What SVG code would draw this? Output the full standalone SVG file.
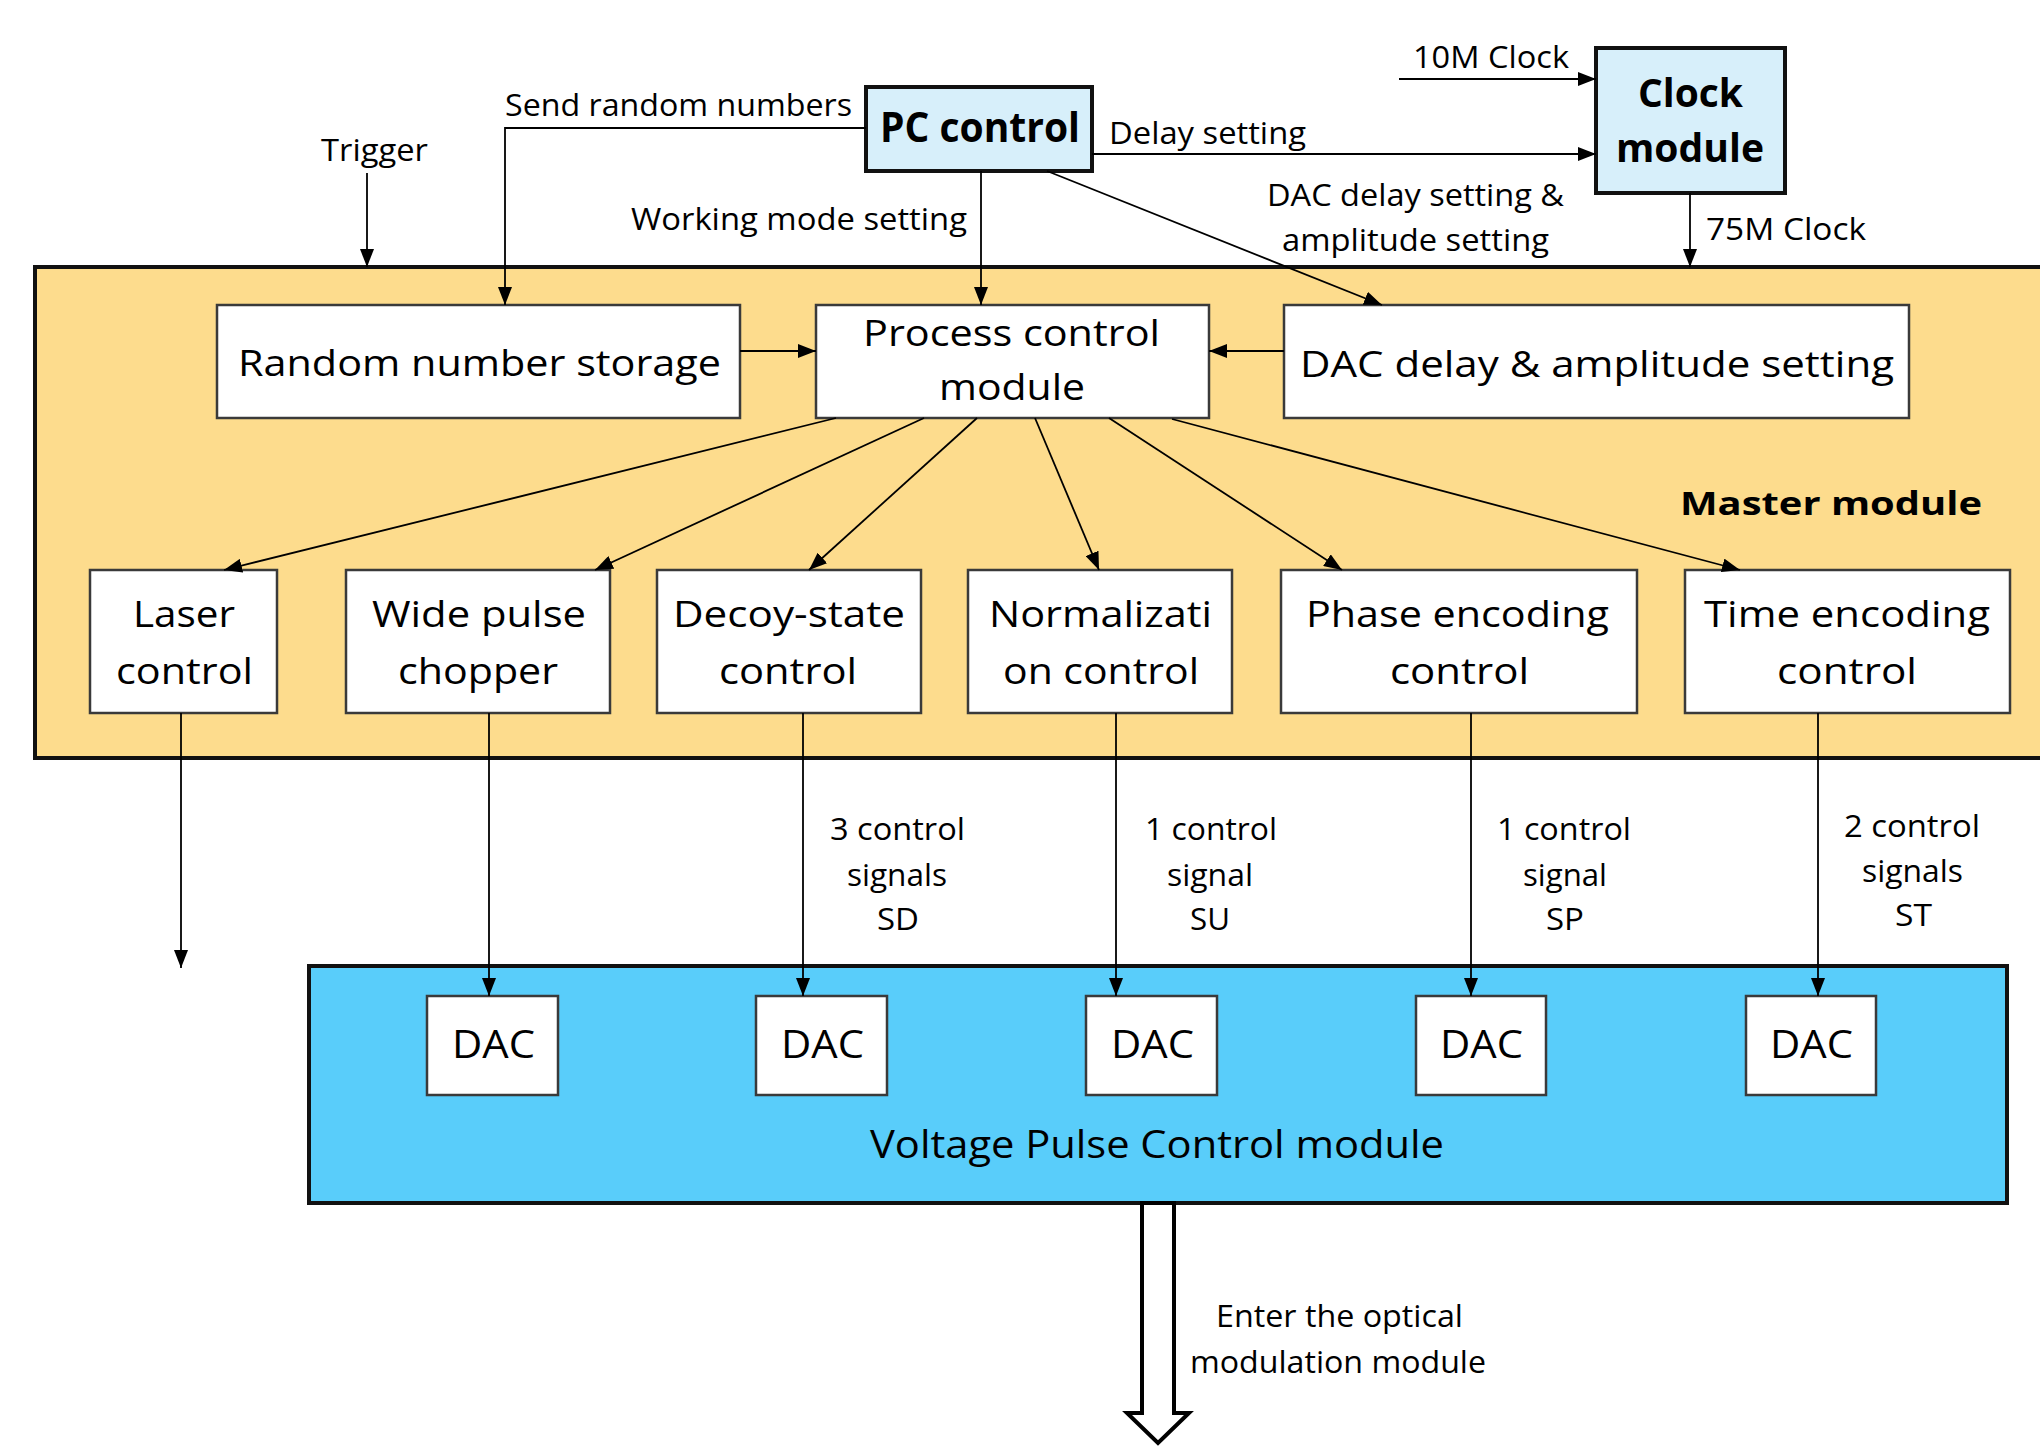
<svg xmlns="http://www.w3.org/2000/svg" width="2040" height="1448" viewBox="0 0 2040 1448">
<defs>
<marker id="ah" markerUnits="userSpaceOnUse" markerWidth="19" markerHeight="14" refX="18" refY="7" orient="auto">
<path d="M0,0 L18,7 L0,14 z" fill="#000"/>
</marker>
<style>
text{font-family:"Open Sans","Liberation Sans",sans-serif;fill:#000;}
.lbl{font-size:31px;}
.big{font-size:37px;}
.b{font-weight:bold;}
.inner{fill:#fff;stroke:#3a3a3a;stroke-width:2.5;}
.pc{fill:#d7effa;stroke:#111;stroke-width:4;}
.con{fill:none;stroke:#000;stroke-width:1.8;marker-end:url(#ah);}
</style>
</defs>
<rect width="2040" height="1448" fill="#fff"/>

<g id="master-module">
<rect x="35" y="267" width="2020" height="491" fill="#fddc8d" stroke="#111" stroke-width="4"/>
<text class="b" x="1680" y="515" textLength="302" lengthAdjust="spacingAndGlyphs" style="font-size:33px">Master module</text>
</g>

<g id="voltage-pulse-module">
<rect x="309" y="966" width="1698" height="237" fill="#59cdfa" stroke="#111" stroke-width="4"/>
<text x="870" y="1158" textLength="574" lengthAdjust="spacingAndGlyphs" style="font-size:38px">Voltage Pulse Control module</text>
</g>

<g id="pc-control">
<rect class="pc" x="866" y="87" width="226" height="84"/>
<text class="b" x="880" y="142" textLength="200" lengthAdjust="spacingAndGlyphs" style="font-size:41px">PC control</text>
</g>

<g id="clock-module">
<rect class="pc" x="1596" y="48" width="189" height="145"/>
<text class="b" x="1638" y="107" textLength="105" lengthAdjust="spacingAndGlyphs" style="font-size:40px">Clock</text>
<text class="b" x="1616" y="162" textLength="148" lengthAdjust="spacingAndGlyphs" style="font-size:40px">module</text>
</g>

<g id="random-number-storage">
<rect class="inner" x="217" y="305" width="523" height="113"/>
<text class="big" x="238" y="376" textLength="483" lengthAdjust="spacingAndGlyphs">Random number storage</text>
</g>

<g id="process-control">
<rect class="inner" x="816" y="305" width="393" height="113"/>
<text class="big" x="863" y="346" textLength="297" lengthAdjust="spacingAndGlyphs">Process control</text>
<text class="big" x="939" y="400" textLength="146" lengthAdjust="spacingAndGlyphs">module</text>
</g>

<g id="dac-delay-amplitude">
<rect class="inner" x="1284" y="305" width="625" height="113"/>
<text class="big" x="1300" y="377" textLength="594" lengthAdjust="spacingAndGlyphs">DAC delay &amp; amplitude setting</text>
</g>

<g id="laser-control">
<rect class="inner" x="90" y="570" width="187" height="143"/>
<text class="big" x="133" y="627" textLength="102" lengthAdjust="spacingAndGlyphs">Laser</text>
<text class="big" x="116" y="684" textLength="137" lengthAdjust="spacingAndGlyphs">control</text>
</g>

<g id="wide-pulse-chopper">
<rect class="inner" x="346" y="570" width="264" height="143"/>
<text class="big" x="372" y="627" textLength="214" lengthAdjust="spacingAndGlyphs">Wide pulse</text>
<text class="big" x="398" y="684" textLength="160" lengthAdjust="spacingAndGlyphs">chopper</text>
</g>

<g id="decoy-state-control">
<rect class="inner" x="657" y="570" width="264" height="143"/>
<text class="big" x="673" y="627" textLength="232" lengthAdjust="spacingAndGlyphs">Decoy-state</text>
<text class="big" x="719" y="684" textLength="138" lengthAdjust="spacingAndGlyphs">control</text>
</g>

<g id="normalization-control">
<rect class="inner" x="968" y="570" width="264" height="143"/>
<text class="big" x="989" y="627" textLength="223" lengthAdjust="spacingAndGlyphs">Normalizati</text>
<text class="big" x="1003" y="684" textLength="196" lengthAdjust="spacingAndGlyphs">on control</text>
</g>

<g id="phase-encoding-control">
<rect class="inner" x="1281" y="570" width="356" height="143"/>
<text class="big" x="1306" y="627" textLength="303" lengthAdjust="spacingAndGlyphs">Phase encoding</text>
<text class="big" x="1390" y="684" textLength="139" lengthAdjust="spacingAndGlyphs">control</text>
</g>

<g id="time-encoding-control">
<rect class="inner" x="1685" y="570" width="325" height="143"/>
<text class="big" x="1704" y="627" textLength="286" lengthAdjust="spacingAndGlyphs">Time encoding</text>
<text class="big" x="1777" y="684" textLength="140" lengthAdjust="spacingAndGlyphs">control</text>
</g>

<g id="dac-1">
<rect class="inner" x="427" y="996" width="131" height="99"/>
<text x="452" y="1058" textLength="83" lengthAdjust="spacingAndGlyphs" style="font-size:39px">DAC</text>
</g>
<g id="dac-2">
<rect class="inner" x="756" y="996" width="131" height="99"/>
<text x="781" y="1058" textLength="83" lengthAdjust="spacingAndGlyphs" style="font-size:39px">DAC</text>
</g>
<g id="dac-3">
<rect class="inner" x="1086" y="996" width="131" height="99"/>
<text x="1111" y="1058" textLength="83" lengthAdjust="spacingAndGlyphs" style="font-size:39px">DAC</text>
</g>
<g id="dac-4">
<rect class="inner" x="1416" y="996" width="130" height="99"/>
<text x="1440" y="1058" textLength="83" lengthAdjust="spacingAndGlyphs" style="font-size:39px">DAC</text>
</g>
<g id="dac-5">
<rect class="inner" x="1746" y="996" width="130" height="99"/>
<text x="1770" y="1058" textLength="83" lengthAdjust="spacingAndGlyphs" style="font-size:39px">DAC</text>
</g>

<g id="connectors">
<path class="con" d="M866,128 H505 V305"/>
<path class="con" d="M367,173 V267"/>
<path class="con" d="M981,171 V305"/>
<path class="con" d="M1092,154 H1596"/>
<path class="con" d="M1399,79 H1596"/>
<path class="con" d="M1047,171 L1382,305"/>
<path class="con" d="M1690,193 V267"/>
<path class="con" d="M740,351 H816"/>
<path class="con" d="M1284,351 H1209"/>
<path class="con" d="M836,418 L224,570"/>
<path class="con" d="M924,418 L595,570"/>
<path class="con" d="M977,418 L809,570"/>
<path class="con" d="M1035,418 L1099,570"/>
<path class="con" d="M1109,418 L1342,570"/>
<path class="con" d="M1172,419 L1740,570"/>
<path class="con" d="M181,713 V968"/>
<path class="con" d="M489,713 V996"/>
<path class="con" d="M803,713 V996"/>
<path class="con" d="M1116,713 V996"/>
<path class="con" d="M1471,713 V996"/>
<path class="con" d="M1818,713 V996"/>
<polygon points="1142,1203 1174,1203 1174,1413 1189,1413 1158,1443 1127,1413 1142,1413" fill="#fff" stroke="#000" stroke-width="4" stroke-linejoin="miter"/>
</g>

<g id="labels">
<text class="lbl" x="505" y="116" textLength="347" lengthAdjust="spacingAndGlyphs">Send random numbers</text>
<text class="lbl" x="321" y="161" textLength="107" lengthAdjust="spacingAndGlyphs">Trigger</text>
<text class="lbl" x="631" y="230" textLength="336" lengthAdjust="spacingAndGlyphs">Working mode setting</text>
<text class="lbl" x="1109" y="144" textLength="197" lengthAdjust="spacingAndGlyphs">Delay setting</text>
<text class="lbl" x="1413" y="68" textLength="156" lengthAdjust="spacingAndGlyphs">10M Clock</text>
<text class="lbl" x="1267" y="206" textLength="297" lengthAdjust="spacingAndGlyphs">DAC delay setting &amp;</text>
<text class="lbl" x="1282" y="251" textLength="267" lengthAdjust="spacingAndGlyphs">amplitude setting</text>
<text class="lbl" x="1706" y="240" textLength="160" lengthAdjust="spacingAndGlyphs">75M Clock</text>
<text class="lbl" x="830" y="840" textLength="135" lengthAdjust="spacingAndGlyphs">3 control</text>
<text class="lbl" x="847" y="886" textLength="100" lengthAdjust="spacingAndGlyphs">signals</text>
<text class="lbl" x="877" y="930" textLength="42" lengthAdjust="spacingAndGlyphs">SD</text>
<text class="lbl" x="1145" y="840" textLength="132" lengthAdjust="spacingAndGlyphs">1 control</text>
<text class="lbl" x="1167" y="886" textLength="86" lengthAdjust="spacingAndGlyphs">signal</text>
<text class="lbl" x="1190" y="930" textLength="40" lengthAdjust="spacingAndGlyphs">SU</text>
<text class="lbl" x="1497" y="840" textLength="134" lengthAdjust="spacingAndGlyphs">1 control</text>
<text class="lbl" x="1523" y="886" textLength="84" lengthAdjust="spacingAndGlyphs">signal</text>
<text class="lbl" x="1546" y="930" textLength="38" lengthAdjust="spacingAndGlyphs">SP</text>
<text class="lbl" x="1844" y="837" textLength="136" lengthAdjust="spacingAndGlyphs">2 control</text>
<text class="lbl" x="1862" y="882" textLength="101" lengthAdjust="spacingAndGlyphs">signals</text>
<text class="lbl" x="1895" y="926" textLength="37" lengthAdjust="spacingAndGlyphs">ST</text>
<text class="lbl" x="1216" y="1327" textLength="247" lengthAdjust="spacingAndGlyphs">Enter the optical</text>
<text class="lbl" x="1190" y="1373" textLength="296" lengthAdjust="spacingAndGlyphs">modulation module</text>
</g>
</svg>
